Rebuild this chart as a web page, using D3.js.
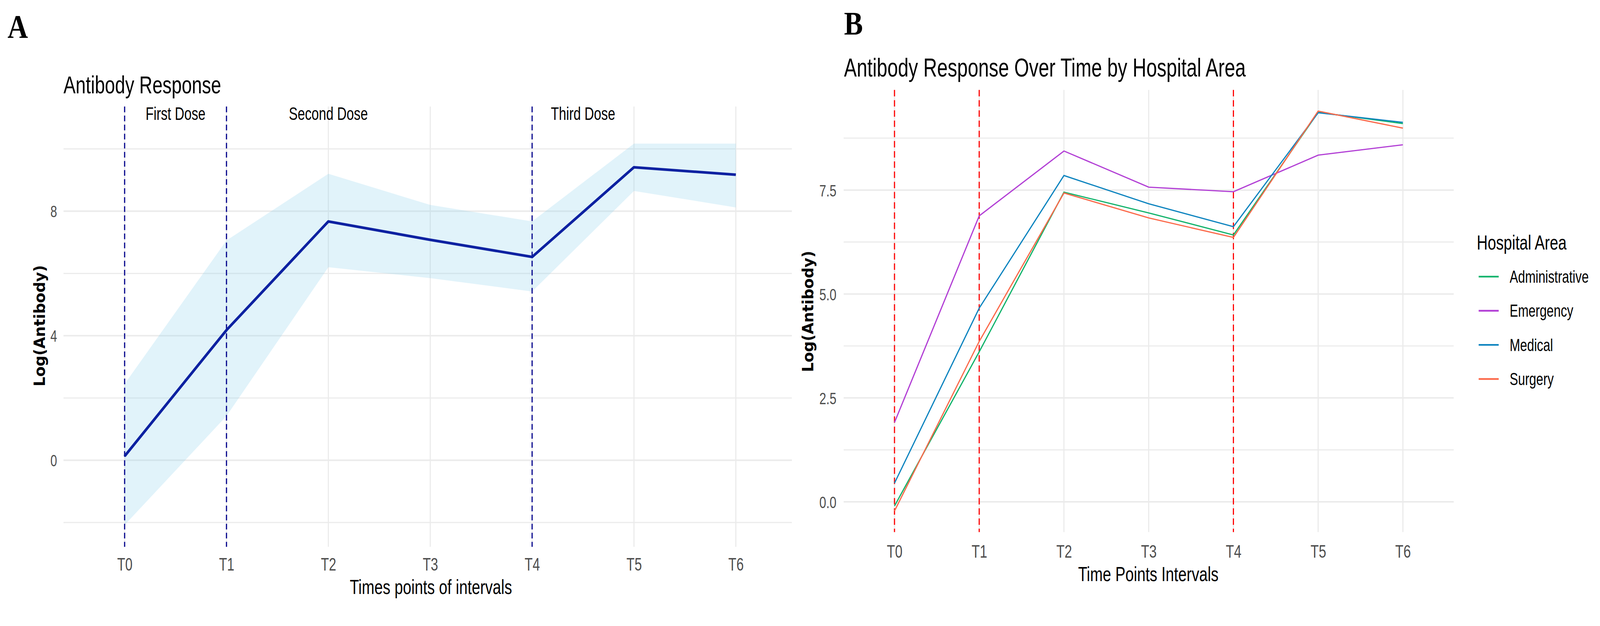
<!DOCTYPE html>
<html><head><meta charset="utf-8">
<script src="https://cdn.jsdelivr.net/npm/d3@7"></script>
<style>html,body{margin:0;padding:0;overflow:hidden;background:#fff}svg{display:block;width:100vw;height:37.869vw}</style>
</head><body>
<svg id="c" viewBox="0 0 4233 1603" preserveAspectRatio="none"></svg>
<script>
// ---------- data ----------
const timePoints = ["T0","T1","T2","T3","T4","T5","T6"];
// Panel A
const meanA  = [0.13, 4.18, 7.67, 7.08, 6.53, 9.41, 9.17];
const lowerA = [-2.08, 1.42, 6.20, 5.85, 5.42, 8.65, 8.12];
const upperA = [2.45, 7.06, 9.20, 8.20, 7.67, 10.17, 10.17];
const doseLinesA = ["T0","T1","T4"];
const doseLabels = ["First Dose","Second Dose","Third Dose"];
const doseLabelPos = [0.5, 2, 4.5];
const doseLabelY = 11;
const yTicksA = [0,4,8];
const yGridA = [-2,0,2,4,6,8,10];
// Panel B
const areas = ["Administrative","Emergency","Medical","Surgery"];
const administrative = [-0.10, 3.61, 7.45, 6.95, 6.42, 9.37, 9.10];
const emergency      = [1.91, 6.88, 8.44, 7.57, 7.46, 8.34, 8.59];
const medical        = [0.45, 4.66, 7.85, 7.17, 6.62, 9.36, 9.13];
const surgery        = [-0.22, 3.86, 7.43, 6.83, 6.36, 9.40, 8.99];
const areaColors = ["#12B36B","#B23FD5","#0E84BF","#FC6A4B"];
const doseLinesB = ["T0","T1","T4"];
const yTicksB = [0,2.5,5,7.5];
const yGridB = [0,1.25,2.5,3.75,5,6.25,7.5,8.75];

// ---------- helpers ----------
const svg = d3.select("#c");
svg.append("rect").attr("width",4233).attr("height",1603).attr("fill","#fff");
const K = 0.74;
const SANS = "'Liberation Sans', Arial, sans-serif";
const SERIF = "'Liberation Serif', 'Times New Roman', serif";
const DEJA = "'DejaVu Sans', Verdana, sans-serif";
function label(g,x,y,s,o){
  const t = g.append("text")
    .attr("transform",`translate(${x},${y}) scale(${o.k ?? K},1)` + (o.rot ? " rotate(-90)" : ""))
    .attr("font-family", o.fam || SANS).attr("font-size", o.size)
    .attr("fill", o.fill || "#000").attr("text-anchor", o.anchor || "start").text(s);
  if (o.weight) t.attr("font-weight", o.weight);
  if (o.dy) t.attr("dy", o.dy);
  return t;
}
function styleX(g, size, y){
  g.select(".domain").remove();
  g.selectAll(".tick line").remove();
  g.selectAll(".tick text").attr("y", y).attr("dy", 0)
    .attr("font-family", SANS).attr("font-size", size).attr("fill", "#4D4D4D")
    .attr("transform", `scale(${K},1)`);
}
function styleY(g, size, off){
  g.select(".domain").remove();
  g.selectAll(".tick line").remove();
  g.selectAll(".tick text").attr("x", -off / K).attr("dy", "0.36em")
    .attr("font-family", SANS).attr("font-size", size).attr("fill", "#4D4D4D")
    .attr("text-anchor", "end").attr("transform", `scale(${K},1)`);
}

// ---------- Panel A ----------
const xA = d3.scaleLinear().domain([-0.6, 6.55]).range([168, 2095]);
const yA = d3.scaleLinear().domain([-2.78, 11.36]).range([1447, 282]);
const gA = svg.append("g");
gA.selectAll("line.hg").data(yGridA).join("line")
  .attr("x1", xA.range()[0]).attr("x2", xA.range()[1])
  .attr("y1", d => yA(d)).attr("y2", d => yA(d))
  .attr("stroke", "#EBEBEB").attr("stroke-width", d => yTicksA.includes(d) ? 4 : 3);
gA.selectAll("line.vg").data(timePoints).join("line")
  .attr("x1", (d,i) => xA(i)).attr("x2", (d,i) => xA(i))
  .attr("y1", yA.range()[1]).attr("y2", yA.range()[0])
  .attr("stroke", "#EBEBEB").attr("stroke-width", 3);
gA.append("path").datum(timePoints)
  .attr("d", d3.area().x((d,i) => xA(i)).y0((d,i) => yA(lowerA[i])).y1((d,i) => yA(upperA[i])))
  .attr("fill", "#87CEEB").attr("fill-opacity", 0.25);
gA.selectAll("line.dose").data(doseLinesA).join("line")
  .attr("x1", d => xA(timePoints.indexOf(d))).attr("x2", d => xA(timePoints.indexOf(d)))
  .attr("y1", yA.range()[1]).attr("y2", yA.range()[0])
  .attr("stroke", "#00008B").attr("stroke-width", 3).attr("stroke-dasharray", "15,9");
gA.append("path").datum(meanA)
  .attr("d", d3.line().x((d,i) => xA(i)).y(d => yA(d)))
  .attr("fill", "none").attr("stroke", "#0D21A1").attr("stroke-width", 7).attr("stroke-linejoin", "round");
doseLabels.forEach((s,i) => label(gA, xA(doseLabelPos[i]), yA(doseLabelY) + 6, s, {size:47, anchor:"middle"}));
gA.append("g").attr("transform", `translate(0,${yA.range()[0]})`)
  .call(d3.axisBottom(xA).tickValues(d3.range(timePoints.length)).tickFormat(i => timePoints[i]).tickSize(0))
  .call(g => styleX(g, 47, 63));
gA.append("g").attr("transform", `translate(${xA.range()[0]},0)`)
  .call(d3.axisLeft(yA).tickValues(yTicksA).tickFormat(d3.format("d")).tickSize(0))
  .call(g => styleY(g, 43, 17));
label(svg, 168, 247, "Antibody Response", {size:65});
label(svg, 1140, 1572, "Times points of intervals", {size:54, anchor:"middle"});
label(svg, 119, 862, "Log(Antibody)", {size:40, fam:DEJA, k:1, rot:true, anchor:"middle", weight:"bold"});
label(svg, 20, 100, "A", {size:88, fam:SERIF, weight:"bold", k:0.85});

// ---------- Panel B ----------
const xB = d3.scaleLinear().domain([-0.6, 6.6]).range([2232, 3846]);
const yB = d3.scaleLinear().domain([-0.727, 9.909]).range([1408, 238]);
const gB = svg.append("g");
gB.selectAll("line.hg").data(yGridB).join("line")
  .attr("x1", xB.range()[0]).attr("x2", xB.range()[1])
  .attr("y1", d => yB(d)).attr("y2", d => yB(d))
  .attr("stroke", "#EBEBEB").attr("stroke-width", d => yTicksB.includes(d) ? 4 : 3);
gB.selectAll("line.vg").data(timePoints).join("line")
  .attr("x1", (d,i) => xB(i)).attr("x2", (d,i) => xB(i))
  .attr("y1", yB.range()[1]).attr("y2", yB.range()[0])
  .attr("stroke", "#EBEBEB").attr("stroke-width", 3);
gB.selectAll("line.dose").data(doseLinesB).join("line")
  .attr("x1", d => xB(timePoints.indexOf(d))).attr("x2", d => xB(timePoints.indexOf(d)))
  .attr("y1", yB.range()[1]).attr("y2", yB.range()[0])
  .attr("stroke", "#FF0000").attr("stroke-width", 3).attr("stroke-dasharray", "17,10");
const seriesB = [administrative, emergency, medical, surgery];
gB.selectAll("path.area").data(seriesB).join("path")
  .attr("d", d3.line().x((d,i) => xB(i)).y(d => yB(d)))
  .attr("fill", "none").attr("stroke", (d,i) => areaColors[i]).attr("stroke-width", 3.2);
gB.append("g").attr("transform", `translate(0,${yB.range()[0]})`)
  .call(d3.axisBottom(xB).tickValues(d3.range(timePoints.length)).tickFormat(i => timePoints[i]).tickSize(0))
  .call(g => styleX(g, 48, 68));
gB.append("g").attr("transform", `translate(${xB.range()[0]},0)`)
  .call(d3.axisLeft(yB).tickValues(yTicksB).tickFormat(d3.format(".1f")).tickSize(0))
  .call(g => styleY(g, 44, 19));
label(svg, 2233, 203, "Antibody Response Over Time by Hospital Area", {size:68});
label(svg, 3038, 1538, "Time Points Intervals", {size:54, anchor:"middle"});
label(svg, 2152, 824, "Log(Antibody)", {size:40, fam:DEJA, k:1, rot:true, anchor:"middle", weight:"bold"});
label(svg, 2233, 92, "B", {size:88, fam:SERIF, weight:"bold", k:0.85});

// legend
const gL = svg.append("g");
label(gL, 3907, 660, "Hospital Area", {size:54});
const legY = d3.scalePoint().domain(areas).range([732, 1003]);
areas.forEach((a,i) => {
  gL.append("line").attr("x1", 3912).attr("x2", 3965).attr("y1", legY(a)).attr("y2", legY(a))
    .attr("stroke", areaColors[i]).attr("stroke-width", 4.5);
  label(gL, 3994, legY(a), a, {size:45, dy:"0.36em"});
});
</script>
</body></html>
